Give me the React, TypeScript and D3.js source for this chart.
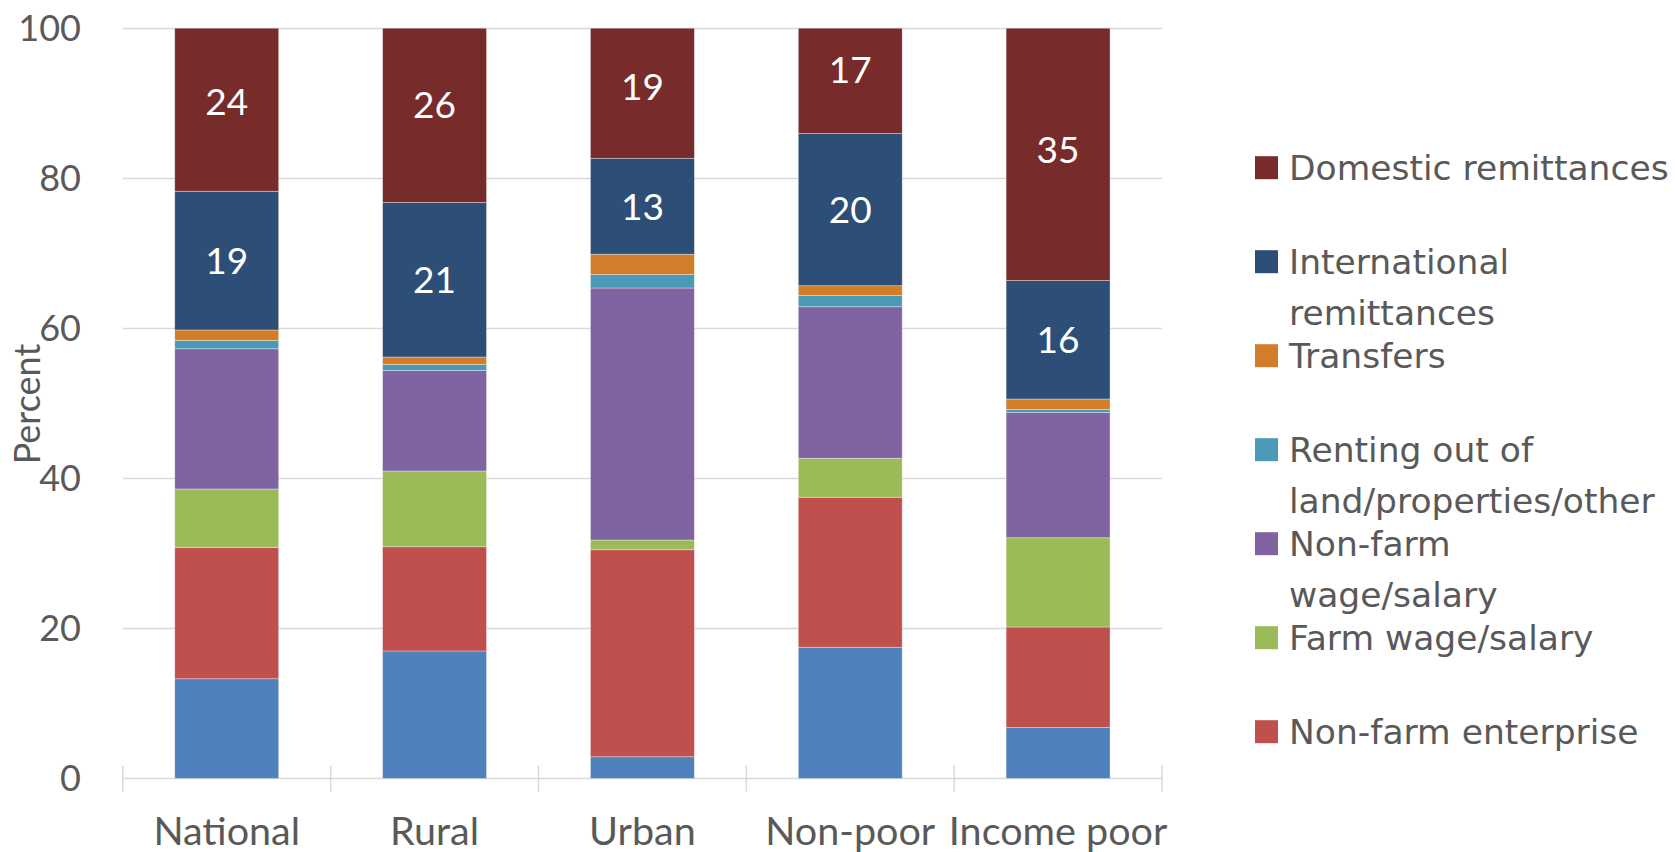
import React from "react";
import * as d3 from "d3";

const categories = ["National", "Rural", "Urban", "Non-poor", "Income poor"];

const seriesNames = [
  "Farm enterprise",
  "Non-farm enterprise",
  "Farm wage/salary",
  "Non-farm wage/salary",
  "Renting out of land/properties/other",
  "Transfers",
  "International remittances",
  "Domestic remittances",
];

const farmEnterprise = [13.3, 17.0, 2.9, 17.5, 6.8];
const nonFarmEnterprise = [17.5, 13.9, 27.6, 20.0, 13.4];
const farmWage = [7.8, 10.1, 1.3, 5.2, 11.9];
const nonFarmWage = [18.7, 13.4, 33.6, 20.2, 16.7];
const renting = [1.1, 0.8, 1.8, 1.5, 0.4];
const transfers = [1.4, 1.0, 2.7, 1.3, 1.4];
const international = [18.5, 20.6, 12.8, 20.3, 15.8];
const domestic = [24, 26, 19, 17, 35];

const seriesValues = [
  farmEnterprise,
  nonFarmEnterprise,
  farmWage,
  nonFarmWage,
  renting,
  transfers,
  international,
  domestic,
];

const colors = [
  "#4f81bd",
  "#c0504d",
  "#9bbb59",
  "#8064a2",
  "#4a9ab7",
  "#d27d2a",
  "#2d4f77",
  "#772b2b",
];

const labeledSeries = [6, 7];

const yTicks = [0, 20, 40, 60, 80, 100];

// legend entries (top to bottom) as shown; lines are pre-wrapped
const legendEntries = [
  { series: 7, lines: ["Domestic remittances"] },
  { series: 6, lines: ["International", "remittances"] },
  { series: 5, lines: ["Transfers"] },
  { series: 4, lines: ["Renting out of", "land/properties/other"] },
  { series: 3, lines: ["Non-farm", "wage/salary"] },
  { series: 2, lines: ["Farm wage/salary"] },
  { series: 1, lines: ["Non-farm enterprise"] },
];

const W = 1675;
const H = 852;
const left = 122.8;
const right = 1162;
const top = 28.5;
const bottom = 778.5;
const textColor = "#595959";
const gridColor = "#d9d9d9";
const calibriLike = "Lato, 'Open Sans', sans-serif";

export default function App() {
  const x = d3
    .scaleBand<string>()
    .domain(categories)
    .range([left, right])
    .paddingInner(0.5)
    .paddingOuter(0.25);
  const y = d3.scaleLinear().domain([0, 100]).range([bottom, top]);

  const rows = categories.map((c, i) => {
    const r: any = { cat: c };
    seriesNames.forEach((s, k) => (r[s] = seriesValues[k][i]));
    return r;
  });
  const stacked = d3.stack<any>().keys(seriesNames)(rows);

  const step = x.step();
  const boundaries = d3.range(categories.length + 1).map((i) => left + i * step);

  return (
    <svg
      width={W}
      height={H}
      style={{ position: "absolute", left: 0, top: 0, background: "#fff" }}
    >
      <defs>
        <clipPath id="plotClip">
          <rect x={0} y={top} width={W} height={bottom - top + 2} />
        </clipPath>
      </defs>
      {/* gridlines */}
      {yTicks.map((t) => (
        <line
          key={t}
          x1={left}
          x2={right}
          y1={y(t)}
          y2={y(t)}
          stroke={gridColor}
          strokeWidth={1.5}
        />
      ))}
      {/* category tick marks */}
      {boundaries.map((bx, i) => (
        <line
          key={i}
          x1={bx}
          x2={bx}
          y1={bottom - 13}
          y2={bottom + 13}
          stroke={gridColor}
          strokeWidth={1.5}
        />
      ))}
      {/* bars */}
      <g clipPath="url(#plotClip)">
        {stacked.map((layer, k) => (
          <g key={k} fill={colors[k]}>
            {layer.map((d, i) => (
              <rect
                key={i}
                x={x(categories[i])}
                width={x.bandwidth()}
                y={y(d[1])}
                height={y(d[0]) - y(d[1])}
                stroke="#ffffff"
                strokeOpacity={0.45}
                strokeWidth={0.75}
              />
            ))}
          </g>
        ))}
      </g>
      {/* data labels */}
      {labeledSeries.map((k) =>
        stacked[k].map((d, i) => (
          <text
            key={`${k}-${i}`}
            x={(x(categories[i]) as number) + x.bandwidth() / 2}
            y={y((d[0] + d[1]) / 2)}
            dy="0.36em"
            textAnchor="middle"
            fill="#ffffff"
            fontFamily={calibriLike}
            fontSize={37}
          >
            {seriesValues[k][i].toFixed(0)}
          </text>
        ))
      )}
      {/* y tick labels */}
      {yTicks.map((t) => (
        <text
          key={t}
          x={81}
          y={y(t)}
          dy="0.36em"
          textAnchor="end"
          fill={textColor}
          fontFamily={calibriLike}
          fontSize={36}
        >
          {t}
        </text>
      ))}
      {/* x labels */}
      {categories.map((c) => (
        <text
          key={c}
          x={(x(c) as number) + x.bandwidth() / 2}
          y={845}
          textAnchor="middle"
          fill={textColor}
          fontFamily={calibriLike}
          fontSize={39.5}
        >
          {c}
        </text>
      ))}
      {/* y title */}
      <text
        transform={`translate(39.5, 404) rotate(-90)`}
        textAnchor="middle"
        fill={textColor}
        fontFamily={calibriLike}
        fontSize={36}
      >
        Percent
      </text>
      {/* legend */}
      {legendEntries.map((e, i) => {
        const cy = 167.7 + i * 94;
        return (
          <g key={i}>
            <rect
              x={1255}
              y={cy - 11.5}
              width={23}
              height={23}
              fill={colors[e.series]}
            />
            {e.lines.map((ln, j) => (
              <text
                key={j}
                x={1289}
                y={cy + j * 51.3}
                dy="0.36em"
                fill={textColor}
                fontFamily="'DejaVu Sans', Verdana, sans-serif"
                fontSize={34.5}
              >
                {ln}
              </text>
            ))}
          </g>
        );
      })}
    </svg>
  );
}
